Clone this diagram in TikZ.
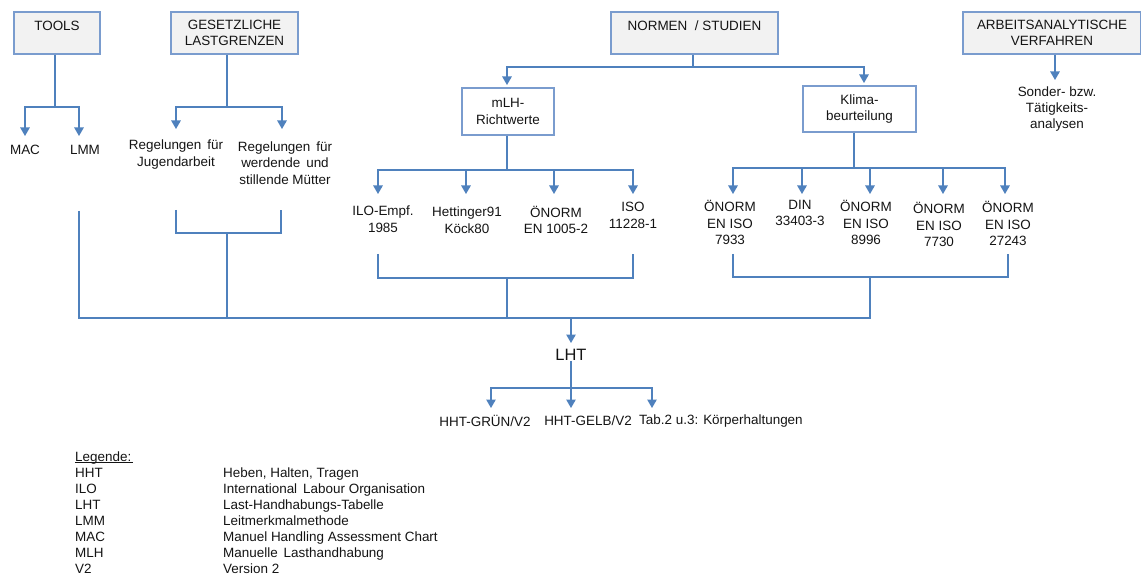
\documentclass[tikz,border=0pt]{standalone}
\usepackage{fontspec}
\setmainfont{Liberation Sans}
\usetikzlibrary{arrows.meta}
\definecolor{ln}{RGB}{79,129,189}
\definecolor{bx}{RGB}{122,156,206}
\definecolor{bf}{RGB}{242,242,242}
\definecolor{tx}{RGB}{20,20,20}
\begin{document}
\begin{tikzpicture}[x=1bp,y=-1bp,
  every node/.style={font=\fontsize{13.5}{16.5}\selectfont, text=tx, inner sep=0pt},
  topbox/.style={draw=bx, fill=bf, line width=1.4bp, align=center},
  subbox/.style={draw=bx, fill=white, line width=1.4bp, align=center},
  lbl/.style={align=center},
  leg/.style={anchor=base west, font=\fontsize{13.5}{16}\selectfont},
  conn/.style={draw=ln, line width=1.2bp},
  arr/.style={conn, -{Triangle[width=9.5bp,length=8.5bp]}},
]
\useasboundingbox (0,0) rectangle (1141,577);

% top boxes
\node[topbox, minimum width=86bp, minimum height=42bp] (tools) at (57,33) {TOOLS\\[-7bp]\strut};
\node[topbox, minimum width=127bp, minimum height=42bp] (gesetz) at (234.5,33) {GESETZLICHE\\LASTGRENZEN};
\node[topbox, minimum width=167bp, minimum height=42bp] (normen) at (694.5,33) {NORMEN~ / STUDIEN\\[-7bp]\strut};
\node[topbox, minimum width=178bp, minimum height=42bp] (arbeit) at (1052,33) {ARBEITSANALYTISCHE\\VERFAHREN};

% sub boxes
\node[subbox, minimum width=92bp, minimum height=47bp] (mlh) at (508,111.5) {mLH-\\Richtwerte};
\node[subbox, minimum width=113bp, minimum height=46bp] (klima) at (859.5,109) {Klima-\\beurteilung};

% text nodes
\node (mac) at (25,150) {MAC};
\node (lmm) at (85,150) {LMM};
\node[lbl] (jug) at (176,154.5) {Regelungen\, für\\Jugendarbeit};
\node[lbl] (mut) at (285,163) {Regelungen\, für\\werdende\, und\\stillende Mütter};
\node[lbl] (sonder) at (1057,109) {Sonder- bzw.\\Tätigkeits-\\analysen};

\node[lbl] (ilo) at (383,219) {ILO-Empf.\\1985};
\node[lbl] (het) at (467,220) {Hettinger91\\Köck80};
\node[lbl] (en1005) at (556,220) {ÖNORM\\EN 1005-2};
\node[lbl] (iso) at (633,215.5) {ISO\\11228-1};

\node[lbl] (on7933) at (730,222.5) {ÖNORM\\EN ISO\\7933};
\node[lbl] (din) at (800,213) {DIN\\33403-3};
\node[lbl] (on8996) at (866,222.5) {ÖNORM\\EN ISO\\8996};
\node[lbl] (on7730) at (939,224.5) {ÖNORM\\EN ISO\\7730};
\node[lbl] (on27243) at (1008,223.5) {ÖNORM\\EN ISO\\27243};

\node[font=\fontsize{16.5}{18}\selectfont] (lht) at (571,355) {LHT};
\node (gruen) at (485,421) {HHT-GRÜN/V2};
\node (gelb) at (588,421) {HHT-GELB/V2};
\node[anchor=west] (tab) at (639,421) {Tab.2 u.3: Körperhaltungen};

% legend
\node[leg] (lg0) at (75,461) {Legende:};
\draw[tx, line width=0.7bp] (lg0.base west) ++(0,1.6) -- ++(58,0);
\node[leg] (lg1) at (75,477) {HHT};
\node[leg] (lg2) at (75,493) {ILO};
\node[leg] (lg3) at (75,509) {LHT};
\node[leg] (lg4) at (75,525) {LMM};
\node[leg] (lg5) at (75,541) {MAC};
\node[leg] (lg6) at (75,557) {MLH};
\node[leg] (lg7) at (75,573) {V2};
\node[leg] (ld1) at (223,477) {Heben, Halten, Tragen};
\node[leg] (ld2) at (223,493) {International\, Labour Organisation};
\node[leg] (ld3) at (223,509) {Last-Handhabungs-Tabelle};
\node[leg] (ld4) at (223,525) {Leitmerkmalmethode};
\node[leg] (ld5) at (223,541) {Manuel Handling Assessment Chart};
\node[leg] (ld6) at (223,557) {Manuelle\, Lasthandhabung};
\node[leg] (ld7) at (223,573) {Version 2};

% coordinates
\coordinate (tj) at (55,107);
\coordinate (macin) at (25,136);
\coordinate (lmmin) at (79,136);
\coordinate (lmmout) at (79,211);
\coordinate (gj) at (227,107);
\coordinate (jugin) at (176,129);
\coordinate (mutin) at (282,129);
\coordinate (jugout) at (176,210);
\coordinate (mutout) at (281,210);
\coordinate (gb) at (227,233);
\coordinate (nj) at (693,67);
\coordinate (mlhin) at (507,85);
\coordinate (klin) at (864,83);
\coordinate (mj) at (507,170);
\coordinate (iloin) at (378,194);
\coordinate (hetin) at (466,194);
\coordinate (enin) at (554,194);
\coordinate (isoin) at (633,194);
\coordinate (iloout) at (378,254);
\coordinate (isoout) at (633,254);
\coordinate (mb) at (507,278);
\coordinate (kj) at (854,168);
\coordinate (o1in) at (733,194);
\coordinate (dinin) at (802,194);
\coordinate (o2in) at (870,194);
\coordinate (o3in) at (943,194);
\coordinate (o4in) at (1005,194);
\coordinate (o1out) at (733,254);
\coordinate (o4out) at (1008,254);
\coordinate (kb) at (870,277);
\coordinate (bus) at (571,318);
\coordinate (lhtin) at (571,343);
\coordinate (lj) at (571,388);
\coordinate (gruenin) at (491,408);
\coordinate (gelbin) at (571,408);
\coordinate (tabin) at (652,408);
\coordinate (sonderin) at (1055,80);

% TOOLS
\draw[conn] (tools.south -| tj) -- (tj);
\draw[arr] (tj) -| (macin);
\draw[arr] (tj) -| (lmmin);
% GESETZ
\draw[conn] (gesetz.south -| gj) -- (gj);
\draw[arr] (gj) -| (jugin);
\draw[arr] (gj) -| (mutin);
\draw[conn] (jugout) |- (gb) -| (mutout);
% NORMEN
\draw[conn] (normen.south -| nj) -- (nj);
\draw[arr] (nj) -| (mlhin);
\draw[arr] (nj) -| (klin);
% mLH
\draw[conn] (mlh.south -| mj) -- (mj);
\draw[arr] (mj) -| (iloin);
\draw[arr] (mj) -| (isoin);
\draw[arr] (hetin |- mj) -- (hetin);
\draw[arr] (enin |- mj) -- (enin);
\draw[conn] (iloout) |- (mb) -| (isoout);
% Klima
\draw[conn] (klima.south -| kj) -- (kj);
\draw[arr] (kj) -| (o1in);
\draw[arr] (kj) -| (o4in);
\draw[arr] (dinin |- kj) -- (dinin);
\draw[arr] (o2in |- kj) -- (o2in);
\draw[arr] (o3in |- kj) -- (o3in);
\draw[conn] (o1out) |- (kb) -| (o4out);
% bus
\draw[conn] (lmmout) |- (kb |- bus) -- (kb);
\draw[conn] (gb) -- (gb |- bus);
\draw[conn] (mb) -- (mb |- bus);
\draw[arr] (bus) -- (lhtin);
% LHT
\draw[conn] (lht.south) -- (lj);
\draw[arr] (lj) -| (gruenin);
\draw[arr] (lj) -| (tabin);
\draw[arr] (lj) -- (gelbin);
% ARBEIT
\draw[arr] (arbeit.south -| sonderin) -- (sonderin);
\end{tikzpicture}
\end{document}
